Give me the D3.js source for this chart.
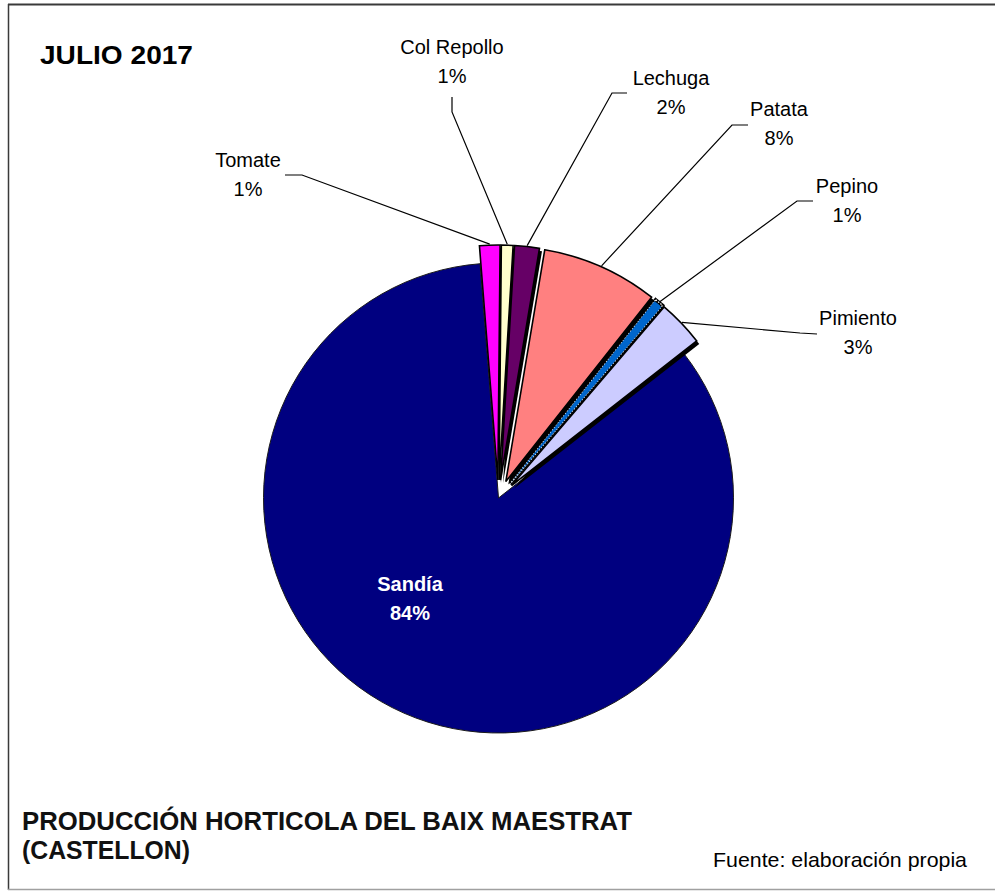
<!DOCTYPE html>
<html><head><meta charset="utf-8">
<script src="https://cdn.jsdelivr.net/npm/d3@7"></script>
<style>
body{margin:0;background:#fff}
svg{display:block}
text{font-family:"Liberation Sans",Arial,sans-serif}
</style>
</head><body>
<svg id="c" width="995" height="895"></svg>
<script>
// ---- data ----
const categories = ["Tomate","Col Repollo","Lechuga","Patata","Pepino","Pimiento","Sandía"];
const values = [1.4, 0.8, 1.7, 8.0, 0.6, 3.2, 84.3];
const colors = ["#FF00FF","#FFFFCC","#660066","#FF8080","#0066CC","#CCCCFF","#000080"];
const exploded = [true, true, true, true, true, true, false];
const chartTitle = "JULIO 2017";
const footTitle = ["PRODUCCIÓN HORTICOLA DEL BAIX MAESTRAT", "(CASTELLON)"];
const sourceText = "Fuente: elaboración propia";

// ---- layout ----
const cx = 498.5, cy = 498, R = 235, explodeDist = 18, startDeg = -4.5;
const labelLayout = [
  {x:248, y:167, stub:[[285,175],[302,175]]},
  {x:452, y:54,  stub:[[452,97],[452,112]]},
  {x:671, y:85,  stub:[[627,93],[612,93]]},
  {x:779, y:116, stub:[[748,125],[732,125]]},
  {x:847, y:193, stub:[[813,201],[797,201]]},
  {x:858, y:325, stub:[[817,334],[800,333]]},
  {x:410, y:591, stub:null}
];
const lineGap = 29;

const svg = d3.select("#c");
const fmt = d3.format(".0%");
const total = d3.sum(values);

// frame
svg.append("line").attr("x1",8).attr("y1",4.5).attr("x2",995).attr("y2",4.5).attr("stroke","#3a3a3a").attr("stroke-width",2);
svg.append("line").attr("x1",8.5).attr("y1",4).attr("x2",8.5).attr("y2",890).attr("stroke","#3a3a3a").attr("stroke-width",1.5);
svg.append("line").attr("x1",8).attr("y1",889.5).attr("x2",995).attr("y2",889.5).attr("stroke","#a0a0a0").attr("stroke-width",1.5);

const a0 = startDeg * Math.PI / 180;
const pie = d3.pie().sort(null).value(d => d).startAngle(a0).endAngle(a0 + 2*Math.PI);
const arcs = pie(values);
const arcGen = d3.arc().innerRadius(0).outerRadius(R);

function offset(a, i){
  if(!exploded[i]) return [0,0];
  const m = (a.startAngle + a.endAngle)/2;
  return [explodeDist*Math.sin(m), -explodeDist*Math.cos(m)];
}

const g = svg.append("g").attr("transform", `translate(${cx},${cy})`);

// big slice
arcs.forEach((a,i) => {
  if(exploded[i]) return;
  g.append("path").attr("d", arcGen(a)).attr("fill", colors[i])
    .attr("stroke","#1a1a1a").attr("stroke-width",1);
});
// dark sides of exploded slices
arcs.forEach((a,i) => {
  if(!exploded[i]) return;
  const [dx,dy] = offset(a,i);
  g.append("path").attr("d", arcGen(a)).attr("fill","#000")
    .attr("transform",`translate(${dx+2.5},${dy+3})`);
});
// faces
arcs.forEach((a,i) => {
  if(!exploded[i]) return;
  const [dx,dy] = offset(a,i);
  const p = g.append("path").attr("d", arcGen(a)).attr("fill", colors[i])
    .attr("transform",`translate(${dx},${dy})`);
  if(categories[i] === "Pepino"){
    p.attr("stroke","#000").attr("stroke-width",3.5);
    g.append("path").attr("d", arcGen(a)).attr("fill","none")
      .attr("transform",`translate(${dx},${dy})`)
      .attr("stroke","#fff").attr("stroke-width",1.2).attr("stroke-dasharray","1.5,1.5");
    g.append("path").attr("d", d3.arc().innerRadius(0).outerRadius(R-2)(a)).attr("fill",colors[i])
      .attr("transform",`translate(${dx},${dy})`);
  } else {
    p.attr("stroke","#000").attr("stroke-width",1.6).attr("stroke-linejoin","miter");
  }
});

// leader lines
arcs.forEach((a,i) => {
  const L = labelLayout[i];
  if(!L.stub) return;
  const [dx,dy] = offset(a,i);
  const m = (a.startAngle + a.endAngle)/2;
  const ex = cx + dx + (R+1)*Math.sin(m), ey = cy + dy - (R+1)*Math.cos(m);
  const pts = L.stub.concat([[ex,ey]]);
  svg.append("path").attr("d", d3.line()(pts)).attr("fill","none")
    .attr("stroke","#000").attr("stroke-width",1.2);
});

// labels
arcs.forEach((a,i) => {
  const L = labelLayout[i];
  const big = !exploded[i];
  const t = svg.append("text").attr("text-anchor","middle")
    .attr("font-size", 20)
    .attr("font-weight", big ? "bold" : "normal")
    .attr("fill", big ? "#fff" : "#000");
  t.append("tspan").attr("x", L.x).attr("y", L.y).text(categories[i]);
  t.append("tspan").attr("x", L.x).attr("y", L.y + lineGap).text(fmt(values[i]/total));
});

// titles
svg.append("text").attr("x",40).attr("y",64).attr("font-size",25).attr("font-weight","bold")
  .attr("textLength",153).attr("lengthAdjust","spacingAndGlyphs").attr("fill","#000").text(chartTitle);
svg.append("text").attr("x",22).attr("y",830).attr("font-size",25).attr("font-weight","bold")
  .attr("textLength",610).attr("lengthAdjust","spacingAndGlyphs").attr("fill","#111").text(footTitle[0]);
svg.append("text").attr("x",22).attr("y",859).attr("font-size",25).attr("font-weight","bold")
  .attr("textLength",168).attr("lengthAdjust","spacingAndGlyphs").attr("fill","#111").text(footTitle[1]);
svg.append("text").attr("x",713).attr("y",867).attr("font-size",21)
  .attr("textLength",254).attr("lengthAdjust","spacingAndGlyphs").attr("fill","#000").text(sourceText);
</script>
</body></html>
